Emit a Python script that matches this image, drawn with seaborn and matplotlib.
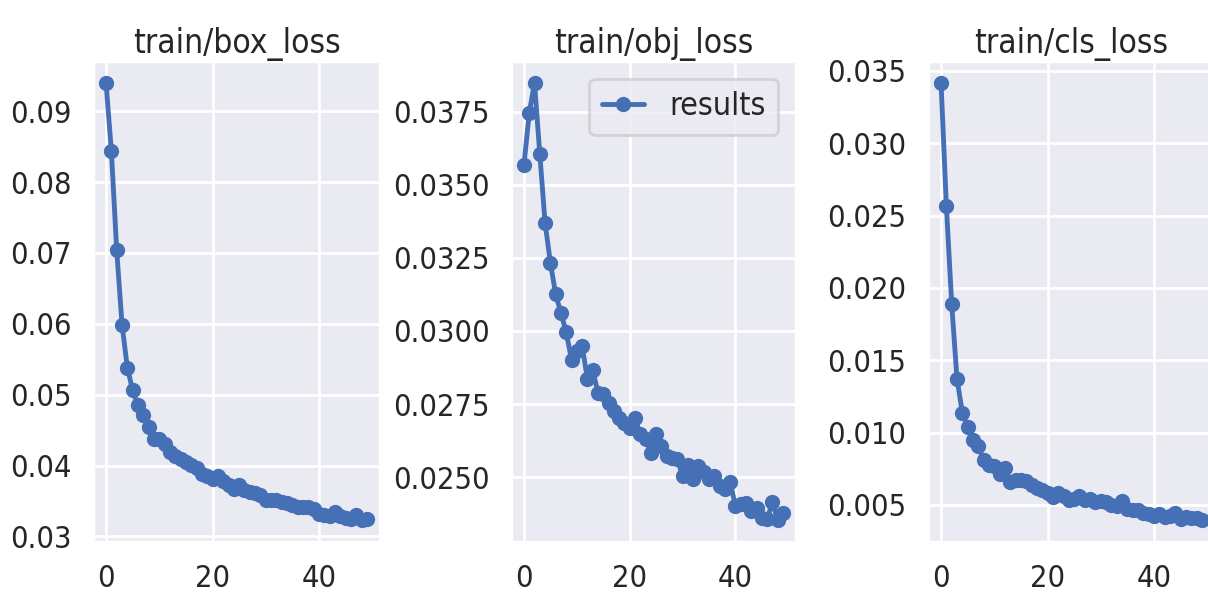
import matplotlib
matplotlib.use("Agg")
import matplotlib.pyplot as plt
from matplotlib.ticker import MultipleLocator
import seaborn as sns

epochs = list(range(50))

box_loss = [
    0.0940, 0.0844, 0.0704, 0.0599, 0.0538, 0.0506, 0.0485, 0.0471, 0.0454, 0.0438,
    0.0437, 0.0430, 0.0419, 0.0414, 0.0409, 0.0405, 0.0401, 0.0397, 0.0388, 0.0385,
    0.0381, 0.0385, 0.0378, 0.0373, 0.0367, 0.0373, 0.0366, 0.0363, 0.0361, 0.0358,
    0.0351, 0.0352, 0.0351, 0.0349, 0.0347, 0.0345, 0.0342, 0.0341, 0.0342, 0.0339,
    0.0331, 0.0330, 0.0329, 0.0334, 0.0329, 0.0326, 0.0324, 0.0330, 0.0323, 0.0324,
]

obj_loss = [
    0.03567, 0.03745, 0.03848, 0.03604, 0.03368, 0.03233, 0.03125, 0.03061, 0.02995, 0.02901,
    0.02932, 0.02949, 0.02835, 0.02866, 0.02789, 0.02783, 0.02755, 0.02726, 0.02703, 0.02686,
    0.02669, 0.02703, 0.02646, 0.02629, 0.02584, 0.02646, 0.02606, 0.02572, 0.02566, 0.02561,
    0.02503, 0.02543, 0.02492, 0.02538, 0.02516, 0.02492, 0.02503, 0.02469, 0.02458, 0.02483,
    0.02401, 0.02407, 0.02410, 0.02384, 0.02395, 0.02361, 0.02358, 0.02414, 0.02353, 0.02378,
]

cls_loss = [
    0.03417, 0.02567, 0.01890, 0.01369, 0.01138, 0.01037, 0.00950, 0.00904, 0.00812, 0.00778,
    0.00766, 0.00716, 0.00755, 0.00656, 0.00675, 0.00675, 0.00663, 0.00640, 0.00618, 0.00601,
    0.00583, 0.00556, 0.00583, 0.00565, 0.00532, 0.00542, 0.00565, 0.00537, 0.00542, 0.00519,
    0.00526, 0.00519, 0.00503, 0.00491, 0.00526, 0.00473, 0.00463, 0.00468, 0.00446, 0.00434,
    0.00427, 0.00434, 0.00418, 0.00427, 0.00441, 0.00400, 0.00418, 0.00411, 0.00411, 0.00395,
]

titles = ["train/box_loss", "train/obj_loss", "train/cls_loss"]
series = [box_loss, obj_loss, cls_loss]
y_steps = [0.01, 0.0025, 0.005]

sns.set_theme(style="darkgrid", context="poster")
plt.rcParams["font.family"] = ["DejaVu Sans"]
plt.rcParams["font.stretch"] = "condensed"

fig = plt.figure(figsize=(12.08, 6.0), dpi=100)

# позиции осей подобраны по пикселям референса (правая панель обрезана краем)
lefts = [93 / 1208, 511 / 1208, 928 / 1208]
widths = [287 / 1208, 285 / 1208, 287 / 1208]
bottom = 1 - 542 / 600
height = (542 - 61) / 600

color = "#4670B5"

for i in range(3):
    ax = fig.add_axes([lefts[i], bottom, widths[i], height])
    sns.lineplot(x=epochs, y=series[i], ax=ax, marker="o", markersize=11,
                 linewidth=3.5, color=color, markeredgecolor=color,
                 markeredgewidth=0, label="results", legend=(i == 1))
    ax.set_title(titles[i], fontsize=24)
    ax.xaxis.set_major_locator(MultipleLocator(20))
    ax.yaxis.set_major_locator(MultipleLocator(y_steps[i]))
    ax.tick_params(labelsize=22)
    if i == 1:
        ax.legend(loc="upper right", fontsize=23, handlelength=1.3,
                  borderaxespad=0.55)

fig.savefig("out.png", dpi=100)
